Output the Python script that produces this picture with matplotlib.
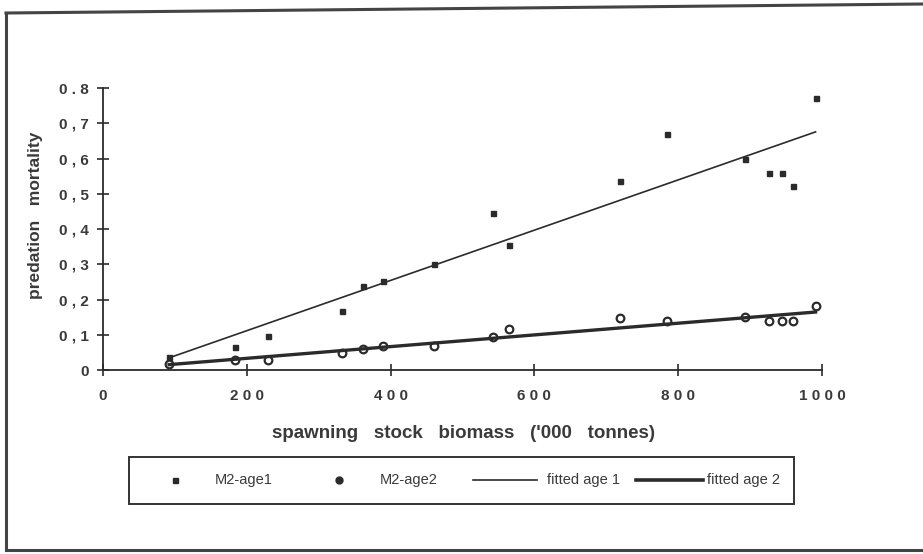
import numpy as np
import matplotlib
matplotlib.use("Agg")
import matplotlib.pyplot as plt
from matplotlib.lines import Line2D
from matplotlib.patches import Rectangle

plt.rcParams["font.family"] = ["Liberation Sans", "DejaVu Sans"]

# spawning stock biomass ('000 t) and predation mortality by age group
ssb = [92, 184, 230, 332, 361, 389, 460, 542, 564, 719, 784, 893, 926, 945, 959, 991]
m2_age1 = [0.036, 0.066, 0.097, 0.168, 0.239, 0.253, 0.301, 0.445, 0.356,
           0.537, 0.669, 0.599, 0.560, 0.560, 0.522, 0.772]
m2_age2 = [0.017, 0.027, 0.027, 0.047, 0.060, 0.069, 0.069, 0.093, 0.116,
           0.148, 0.138, 0.151, 0.140, 0.140, 0.140, 0.182]

# linear fits (slope, intercept)
fit_age1 = (0.000713, -0.031)
fit_age2 = (0.000166, 0.000)

y_ticks = [0, 0.1, 0.2, 0.3, 0.4, 0.5, 0.6, 0.7, 0.8]
y_tick_labels = ["0", "0 , 1", "0 , 2", "0 , 3", "0 , 4", "0 , 5", "0 , 6", "0 , 7", "0 . 8"]
x_ticks = [0, 200, 400, 600, 800, 1000]
x_tick_labels = ["0", "2 0 0", "4 0 0", "6 0 0", "8 0 0", "1 0 0 0"]
legend_labels = ["M2-age1", "M2-age2", "fitted age 1", "fitted age 2"]

INK = "#2b2b2b"
TXT = "#3a3a3a"
W, H = 923, 554


def fx(px):
    return px / W


def fy(py):
    return 1 - py / H


fig = plt.figure(figsize=(9.23, 5.54), dpi=100)

# outer frame (open on the right)
frame_kw = dict(color="#444444", lw=2.2, transform=fig.transFigure)
fig.add_artist(Line2D([fx(6), 1.0], [fy(13), fy(4)], **frame_kw))
fig.add_artist(Line2D([fx(6), fx(6)], [fy(13), fy(550)], **frame_kw))
fig.add_artist(Line2D([fx(6), 1.0], [fy(550), fy(550)], **frame_kw))

ax = fig.add_axes([0.1116, 0.3321, 0.779, 0.509])

ax.plot(ssb, m2_age1, linestyle="none", marker="s", markersize=3.6, color=INK)
ax.plot(ssb, m2_age2, linestyle="none", marker="o", markersize=5.5,
        mfc="white", mec=INK, mew=1.6)

xs = np.array([min(ssb), max(ssb)])
ax.plot(xs, fit_age1[0] * xs + fit_age1[1], color=INK, lw=1.2)
ax.plot(xs, fit_age2[0] * xs + fit_age2[1], color=INK, lw=2.4)

ax.set_xlim(0, 1000)
ax.set_ylim(0, 0.8)
ax.set_xticks(x_ticks)
ax.set_xticklabels(x_tick_labels)
ax.set_yticks(y_ticks)
ax.set_yticklabels(y_tick_labels)
ax.tick_params(axis="both", direction="inout", length=8, width=1.2, color=INK,
               labelsize=11, labelcolor=TXT)
ax.tick_params(axis="x", pad=10)
ax.tick_params(axis="y", pad=6)
for lab in ax.get_xticklabels() + ax.get_yticklabels():
    lab.set_fontweight("bold")

for side in ("top", "right"):
    ax.spines[side].set_visible(False)
for side in ("left", "bottom"):
    ax.spines[side].set_color(INK)
    ax.spines[side].set_linewidth(1.3)

ax.set_xlabel("spawning   stock   biomass   ('000   tonnes)", fontsize=13.5,
              fontweight="bold", color=TXT)
ax.xaxis.set_label_coords(0.5007, -0.195)
ax.set_ylabel("predation   mortality", fontsize=12.5, fontweight="bold", color=TXT)
ax.yaxis.set_label_coords(-0.083, 0.55)

# legend box drawn by hand so the entries sit where the original layout has them
fig.add_artist(Rectangle((fx(129), fy(504)), fx(794) - fx(129), fy(457) - fy(504),
                         transform=fig.transFigure, fill=False,
                         edgecolor="#333333", lw=1.4))
ly = fy(480)
fig.add_artist(Line2D([fx(175)], [ly], marker="s", markersize=3.6, color=INK,
                      linestyle="none", transform=fig.transFigure))
fig.add_artist(Line2D([fx(339)], [ly], marker="o", markersize=5, color=INK,
                      mec=INK, linestyle="none", transform=fig.transFigure))
fig.add_artist(Line2D([fx(473), fx(537)], [ly, ly], color=INK, lw=1.2,
                      transform=fig.transFigure))
fig.add_artist(Line2D([fx(636), fx(703)], [ly, ly], color=INK, lw=2.6,
                      transform=fig.transFigure))
for px, label in zip([215, 380, 547, 707], legend_labels):
    fig.text(fx(px), ly, label, fontsize=10.5, color=TXT, va="center", ha="left")

fig.savefig("out.png", dpi=100, facecolor="white")
